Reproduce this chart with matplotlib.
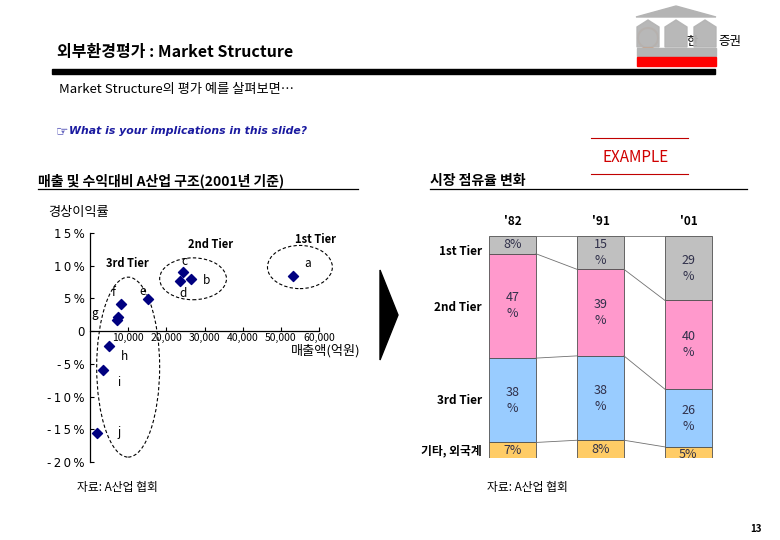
import numpy as np
import matplotlib
matplotlib.use("Agg")
import matplotlib.pyplot as plt
from matplotlib.patches import Ellipse, Polygon, Rectangle, Circle

plt.rcParams['font.family'] = ['Noto Sans CJK KR', 'DejaVu Sans']

# 산포도 데이터 (매출액 억원, 경상이익률 %)
firms = ['a', 'b', 'c', 'd', 'e', 'f', 'g', 'g', 'h', 'i', 'j']
sales = [53200, 26500, 24400, 23600, 15200, 8100, 7400, 7100, 5000, 3400, 1800]
margin = [8.4, 8.0, 9.0, 7.6, 4.9, 4.1, 2.2, 1.7, -2.2, -5.9, -15.6]

# 점유율 데이터
years = ["'82", "'91", "'01"]
tiers = ['1st Tier', '2nd Tier', '3rd Tier', '기타, 외국계']
share_1st = [8, 15, 29]
share_2nd = [47, 39, 40]
share_3rd = [38, 38, 26]
share_etc = [7, 8, 5]
tier_colors = ['#c0c0c0', '#ff99cc', '#99ccff', '#ffcc66']

W, H = 780, 540
fig = plt.figure(figsize=(W / 100, H / 100), dpi=100)

# 배경용 축 (픽셀 좌표)
bg = fig.add_axes([0, 0, 1, 1])
bg.set_xlim(0, W)
bg.set_ylim(H, 0)
bg.axis('off')


def px_axes(x0, y0, x1, y1):
    return fig.add_axes([x0 / W, 1 - y1 / H, (x1 - x0) / W, (y1 - y0) / H])


def spaced(s):
    # 굴림체처럼 글자 사이를 조금 띄움
    return '\u2009'.join(s)


# 로고
gray = '#b4b4b4'
bg.add_patch(Polygon([[636, 17], [676, 6], [716, 17]], closed=True, color=gray))
bg.add_patch(Circle((648, 38), 10, fill=False, ec='#e07020', lw=1.5, alpha=0.8, zorder=1))
for k, lx in enumerate([637, 665, 694]):
    bg.add_patch(Polygon([[lx, 27], [lx + 11, 20], [lx + 22, 27], [lx + 22, 47], [lx, 47]],
                         closed=True, color=gray, zorder=3 if k == 2 else 2, alpha=0.95))
bg.text(686, 42, '한', fontsize=9, va='center', ha='left', zorder=2)
bg.text(718, 42, '증권', fontsize=9, va='center', ha='left')
bg.add_patch(Rectangle((637, 48), 79, 8, color=gray))
bg.add_patch(Rectangle((637, 57), 79, 9, color='#ff0000'))

# 제목
bg.text(57, 52, '외부환경평가 : Market Structure', fontsize=11.5, fontweight='bold', va='center')
bg.add_patch(Rectangle((52, 69), 663, 5, color='black'))
bg.text(59, 90, 'Market Structure의 평가 예를 살펴보면…', fontsize=9.5, va='center')
bg.text(56, 131, '☞', fontsize=10, va='center', color='#1a1aa0', family=['DejaVu Sans'])
bg.text(69, 131, 'What is your implications in this slide?', fontsize=7.8, va='center',
        color='#1a1aa0', style='italic', fontweight='bold', family=['DejaVu Sans'])

# EXAMPLE
bg.plot([591, 688], [138, 138], color='#c00000', lw=0.8)
bg.plot([591, 688], [174, 174], color='#c00000', lw=0.8)
bg.text(636, 157, 'EXAMPLE', fontsize=11, color='#d00000', ha='center', va='center')

# 섹션 제목
bg.text(38, 181, '매출 및 수익대비 A산업 구조(2001년 기준)', fontsize=10, fontweight='bold', va='center')
bg.plot([38, 358], [189, 189], color='black', lw=0.9)
bg.text(430, 181, '시장 점유율 변화', fontsize=10, fontweight='bold', va='center')
bg.plot([430, 747], [189, 189], color='black', lw=0.9)

# 화살표
bg.add_patch(Polygon([[380, 270], [398, 315], [380, 360]], closed=True, color='black'))

# 출처 / 페이지
bg.text(77, 488, '자료: A산업 협회', fontsize=8.5, va='center')
bg.text(487, 488, '자료: A산업 협회', fontsize=8.5, va='center')
bg.text(756, 529, '13', fontsize=7, fontweight='bold', ha='center', va='center')

# ---- 산포도 ----
ax = px_axes(90, 233, 319, 462)
ax.set_xlim(0, 60000)
ax.set_ylim(-20, 15)
ax.patch.set_alpha(0)
ax.scatter(sales, margin, marker='D', s=26, color='#000080', zorder=3, clip_on=False)
ax.spines['top'].set_visible(False)
ax.spines['right'].set_visible(False)
ax.spines['bottom'].set_position(('data', 0))
ax.spines['left'].set_linewidth(0.9)
ax.spines['bottom'].set_linewidth(0.9)
yt = [15, 10, 5, 0, -5, -10, -15, -20]
ax.set_yticks(yt)
ax.set_yticklabels([spaced('0') if v == 0 else spaced(f'{v}%') for v in yt],
                   fontsize=8.5, family=['DejaVu Sans'])
xt = [10000, 20000, 30000, 40000, 50000, 60000]
ax.set_xticks(xt)
ax.set_xticklabels([f'{v:,}' for v in xt], fontsize=7.5)
ax.tick_params(axis='y', direction='in', length=3, pad=4)
ax.tick_params(axis='x', direction='in', length=3, pad=1)

ax.text(-11000, 18.2, '경상이익률', fontsize=9.5, va='center', clip_on=False)
ax.text(71000, -3.0, '매출액(억원)', fontsize=9.5, ha='right', va='center', clip_on=False)

label_pos = {'a': (57000, 10.3), 'b': (30500, 7.8), 'c': (24800, 10.7), 'd': (24500, 5.8),
             'e': (13700, 6.1), 'f': (6100, 5.9), 'g': (1300, 2.7), 'h': (9000, -3.8),
             'i': (7500, -7.9), 'j': (7600, -15.5)}
for name, (lx, ly) in label_pos.items():
    ax.text(lx, ly, name, fontsize=8.5, ha='center', va='center')

ax.text(59000, 14.0, '1st Tier', fontsize=8, fontweight='bold', ha='center', va='center', clip_on=False)
ax.text(31500, 13.3, '2nd Tier', fontsize=8, fontweight='bold', ha='center', va='center')
ax.text(9800, 10.3, '3rd Tier', fontsize=8, fontweight='bold', ha='center', va='center')

ellipses = [(55000, 9.8, 17000, 6.6), (27000, 8.0, 17500, 6.4), (10000, -5.5, 16500, 27.5)]
for cx, cy, ew, eh in ellipses:
    ax.add_patch(Ellipse((cx, cy), ew, eh, fill=False, ls=(0, (3, 2)), lw=0.8,
                         ec='black', clip_on=False))

# ---- 누적 막대 ----
bx = px_axes(465, 236, 735, 458)
bx.set_xlim(-0.54, 2.53)
bx.set_ylim(100, 0)
bx.axis('off')
xs = np.arange(len(years))
bw = 47 / 88
shares = [share_1st, share_2nd, share_3rd, share_etc]
bottom = np.zeros(len(years))
bounds = [bottom.copy()]
for vals, col in zip(shares, tier_colors):
    vals = np.array(vals, dtype=float)
    bx.bar(xs, vals, bw, bottom=bottom, color=col, edgecolor='#505050', lw=0.6)
    for x, v, b in zip(xs, vals, bottom):
        txt = f'{int(v)}%' if v < 10 else f'{int(v)}\n%'
        yy = b + v / 2
        if v <= 5:
            yy = b + v * 0.7
        bx.text(x, yy, txt, fontsize=9, ha='center', va='center', color='#30304a',
                linespacing=1.3, clip_on=False)
    bottom = bottom + vals
    bounds.append(bottom.copy())

for bnd in bounds[:-1]:
    for i in range(len(years) - 1):
        bx.plot([xs[i] + bw / 2, xs[i + 1] - bw / 2], [bnd[i], bnd[i + 1]],
                color='#707070', lw=0.6)

for x, yr in zip(xs, years):
    bx.text(x, -6.5, yr, fontsize=8.5, fontweight='bold', ha='center', va='center', clip_on=False)

row_y = [6.8, 32, 74, 97]
for t, yy in zip(tiers, row_y):
    bx.text(-0.35, yy, t, fontsize=8.5, fontweight='bold', ha='right', va='center', clip_on=False)

fig.savefig('out.png', dpi=100)
